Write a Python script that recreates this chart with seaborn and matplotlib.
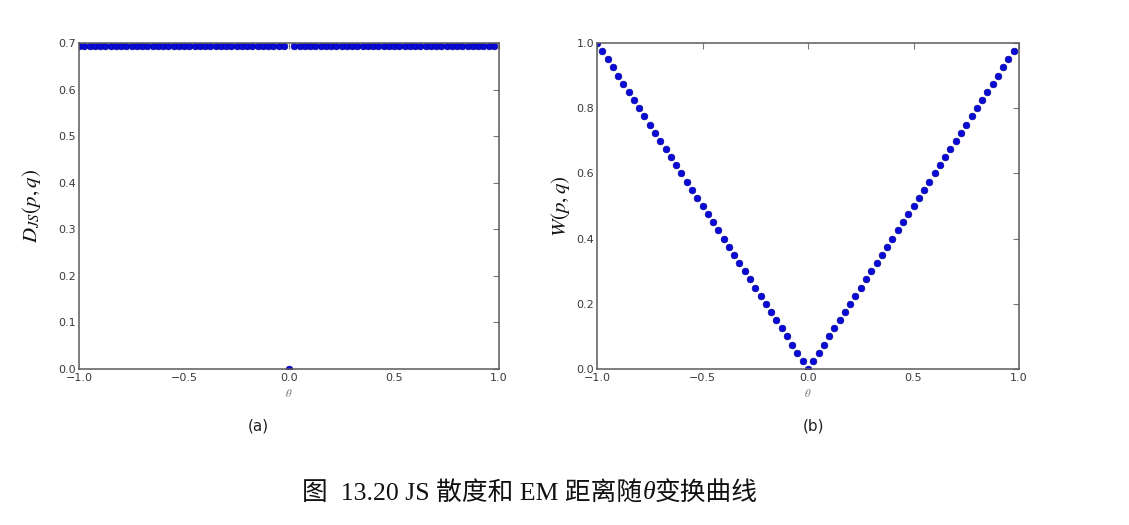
import matplotlib
matplotlib.use('Agg')
import matplotlib.pyplot as plt
import seaborn as sns
import pandas as pd

# theta grid sampled in the figure (step 0.025)
theta = [
    -1.0, -0.975, -0.95, -0.925, -0.9, -0.875, -0.85, -0.825, -0.8, -0.775,
    -0.75, -0.725, -0.7, -0.675, -0.65, -0.625, -0.6, -0.575, -0.55, -0.525,
    -0.5, -0.475, -0.45, -0.425, -0.4, -0.375, -0.35, -0.325, -0.3, -0.275,
    -0.25, -0.225, -0.2, -0.175, -0.15, -0.125, -0.1, -0.075, -0.05, -0.025,
    0.0, 0.025, 0.05, 0.075, 0.1, 0.125, 0.15, 0.175, 0.2, 0.225,
    0.25, 0.275, 0.3, 0.325, 0.35, 0.375, 0.4, 0.425, 0.45, 0.475,
    0.5, 0.525, 0.55, 0.575, 0.6, 0.625, 0.65, 0.675, 0.7, 0.725,
    0.75, 0.775, 0.8, 0.825, 0.85, 0.875, 0.9, 0.925, 0.95, 0.975,
]

# JS divergence: log 2 everywhere except theta = 0
js_div = [
    0.693, 0.693, 0.693, 0.693, 0.693, 0.693, 0.693, 0.693, 0.693, 0.693,
    0.693, 0.693, 0.693, 0.693, 0.693, 0.693, 0.693, 0.693, 0.693, 0.693,
    0.693, 0.693, 0.693, 0.693, 0.693, 0.693, 0.693, 0.693, 0.693, 0.693,
    0.693, 0.693, 0.693, 0.693, 0.693, 0.693, 0.693, 0.693, 0.693, 0.693,
    0.0, 0.693, 0.693, 0.693, 0.693, 0.693, 0.693, 0.693, 0.693, 0.693,
    0.693, 0.693, 0.693, 0.693, 0.693, 0.693, 0.693, 0.693, 0.693, 0.693,
    0.693, 0.693, 0.693, 0.693, 0.693, 0.693, 0.693, 0.693, 0.693, 0.693,
    0.693, 0.693, 0.693, 0.693, 0.693, 0.693, 0.693, 0.693, 0.693, 0.693,
]

# EM (Wasserstein) distance
em_dist = [
    1.0, 0.975, 0.95, 0.925, 0.9, 0.875, 0.85, 0.825, 0.8, 0.775,
    0.75, 0.725, 0.7, 0.675, 0.65, 0.625, 0.6, 0.575, 0.55, 0.525,
    0.5, 0.475, 0.45, 0.425, 0.4, 0.375, 0.35, 0.325, 0.3, 0.275,
    0.25, 0.225, 0.2, 0.175, 0.15, 0.125, 0.1, 0.075, 0.05, 0.025,
    0.0, 0.025, 0.05, 0.075, 0.1, 0.125, 0.15, 0.175, 0.2, 0.225,
    0.25, 0.275, 0.3, 0.325, 0.35, 0.375, 0.4, 0.425, 0.45, 0.475,
    0.5, 0.525, 0.55, 0.575, 0.6, 0.625, 0.65, 0.675, 0.7, 0.725,
    0.75, 0.775, 0.8, 0.825, 0.85, 0.875, 0.9, 0.925, 0.95, 0.975,
]

js_ticks = [0.0, 0.1, 0.2, 0.3, 0.4, 0.5, 0.6, 0.7]
em_ticks = [0.0, 0.2, 0.4, 0.6, 0.8, 1.0]
x_ticks = [-1.0, -0.5, 0.0, 0.5, 1.0]
caption = ['图  13.20 JS 散度和 EM 距离随', 'θ', '变换曲线']

sns.set_style('white')
plt.rcParams['font.family'] = ['DejaVu Sans', 'Noto Sans CJK SC']
plt.rcParams['mathtext.fontset'] = 'stix'

df = pd.DataFrame({'theta': theta, 'js': js_div, 'em': em_dist})

fig = plt.figure(figsize=(11.29, 5.25), dpi=100)
W, H = 1129, 525
ax1 = fig.add_axes([79 / W, 1 - 369 / H, 420 / W, 326 / H])
ax2 = fig.add_axes([597 / W, 1 - 369 / H, 422 / W, 326 / H])

dot = '#0a0ad8'
for ax, col, ylab, yt in [(ax1, 'js', r'$D_{JS}(p,q)$', js_ticks),
                          (ax2, 'em', r'$W(p,q)$', em_ticks)]:
    sns.scatterplot(data=df, x='theta', y=col, ax=ax, color=dot, s=24,
                    edgecolor='#00008a', linewidth=0.4, legend=False)
    ax.set_xlim(-1.0, 1.0)
    ax.set_ylim(yt[0], yt[-1])
    ax.set_xticks(x_ticks)
    ax.set_yticks(yt)
    ax.set_xticklabels(['\u22121.0', '\u22120.5', '0.0', '0.5', '1.0'])
    ax.set_yticklabels(['%.1f' % v for v in yt])
    ax.tick_params(direction='in', length=4, width=0.8, color='#777777',
                   labelsize=8, labelcolor='#3a3a3a', top=True, right=True)
    ax.tick_params(axis='x', pad=3)
    ax.tick_params(axis='y', pad=2)
    for sp in ax.spines.values():
        sp.set_color('#5a5a5a')
        sp.set_linewidth(1.1)
    ax.set_xlabel(r'$\theta$', fontsize=8, color='#777777', labelpad=3)
    ax.set_ylabel(ylab, fontsize=15, color='#111111')

ax1.yaxis.set_label_coords(-0.086, 0.5)
ax2.yaxis.set_label_coords(-0.059, 0.5)

fig.text(258 / W, 1 - 426 / H, '(a)', fontsize=11, ha='center', va='center',
         color='#222222')
fig.text(813 / W, 1 - 426 / H, '(b)', fontsize=11, ha='center', va='center',
         color='#222222')

# caption in three pieces so the italic theta sits between the CJK runs
cap_fam = ['Liberation Serif', 'Noto Sans CJK SC']
parts = []
for i, piece in enumerate(caption):
    parts.append(fig.text(0, 1 - 493 / H, piece, fontsize=18.5, va='center',
                          ha='left', color='#111111', family=cap_fam,
                          style='italic' if i == 1 else 'normal'))
fig.canvas.draw()
r = fig.canvas.get_renderer()
widths = [p.get_window_extent(r).width for p in parts]
x = 530 - sum(widths) / 2
for p, w in zip(parts, widths):
    p.set_x(x / W)
    x += w

fig.savefig('out.png', dpi=100)
